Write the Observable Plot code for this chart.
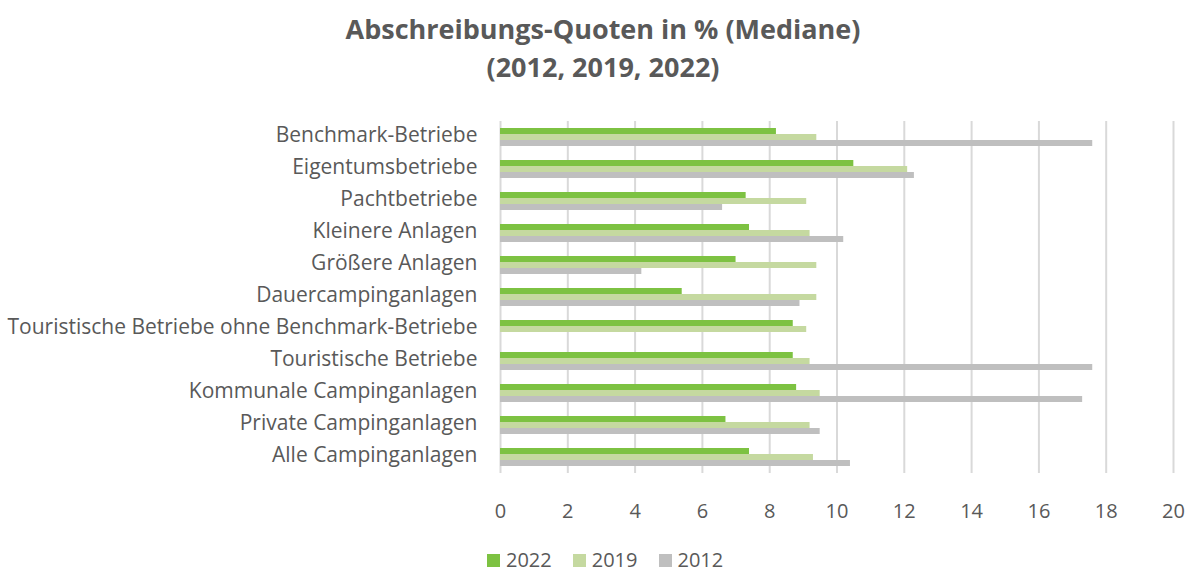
<!DOCTYPE html>
<html><head><meta charset="utf-8">
<script src="https://cdn.jsdelivr.net/npm/d3@7"></script>
<script src="https://cdn.jsdelivr.net/npm/@observablehq/plot@0.6"></script>
<style>
body{margin:0;background:#fff;font-family:"Open Sans",Lato,sans-serif;color:#595959;width:1190px;height:572px;overflow:hidden;position:relative}
#title{position:absolute;left:0;top:0;width:1190px;text-align:center;font-weight:bold;font-size:27px;line-height:38px;padding-top:10px;box-sizing:border-box;padding-left:16px}
#chart{position:absolute;left:0;top:89px}
#chart svg{display:block}
#legend{position:absolute;left:487px;top:548px;height:24px;line-height:24px;display:flex;gap:21px;font-size:20px;align-items:center}
#legend div{display:flex;align-items:center}
#legend span.sw{display:inline-block;width:13px;height:13px;margin-right:6px}
</style></head><body>
<div id="title">Abschreibungs-Quoten in % (Mediane)<br>(2012, 2019, 2022)</div>
<div id="chart"></div>
<div id="legend"></div>
<script>
const categories = ["Benchmark-Betriebe","Eigentumsbetriebe","Pachtbetriebe","Kleinere Anlagen","Größere Anlagen","Dauercampinganlagen","Touristische Betriebe ohne Benchmark-Betriebe","Touristische Betriebe","Kommunale Campinganlagen","Private Campinganlagen","Alle Campinganlagen"];
const years = ["2022","2019","2012"];
const v2022 = [8.2,10.5,7.3,7.4,7.0,5.4,8.7,8.7,8.8,6.7,7.4];
const v2019 = [9.4,12.1,9.1,9.2,9.4,9.4,9.1,9.2,9.5,9.2,9.3];
const v2012 = [17.6,12.3,6.6,10.2,4.2,8.9,null,17.6,17.3,9.5,10.4];
const colors = ["#7DC242","#C5D9A0","#BFBFBF"];
const xTicks = [0,2,4,6,8,10,12,14,16,18,20];

const series = [v2022,v2019,v2012];
const data = [];
categories.forEach((c,i)=>years.forEach((y,j)=>{ if(series[j][i]!=null) data.push({cat:c,year:y,value:series[j][i]}); }));

const chart = Plot.plot({
  width:1190, height:441,
  marginLeft:500, marginRight:17, marginTop:27, marginBottom:53,
  style:{fontFamily:"'Open Sans', Lato, sans-serif", color:"#595959", fontSize:"20px"},
  x:{domain:[0,20], ticks:xTicks, label:null, tickSize:0},
  fy:{domain:categories, padding:0, label:null},
  y:{domain:years, paddingInner:0, paddingOuter:0.92, axis:null},
  color:{domain:years, range:colors},
  marks:[
    Plot.gridX(xTicks,{stroke:"#D9D9D9", strokeOpacity:1, strokeWidth:2}),
    Plot.barX(data,{fy:"cat", y:"year", x:"value", fill:"year", insetTop:0, insetBottom:0}),
    Plot.axisX({ticks:xTicks, tickSize:0, tickPadding:30, fontSize:20, fill:"#595959", label:null, facetAnchor:"bottom"}),
    Plot.axisFy({anchor:"left", tickSize:0, tickPadding:23, dy:-2, fontSize:21, fill:"#595959", label:null})
  ]
});
document.getElementById("chart").appendChild(chart);

const leg = document.getElementById("legend");
years.forEach((y,j)=>{
  const d=document.createElement("div");
  d.innerHTML=`<span class="sw" style="background:${colors[j]}"></span>${y}`;
  leg.appendChild(d);
});
</script></body></html>
